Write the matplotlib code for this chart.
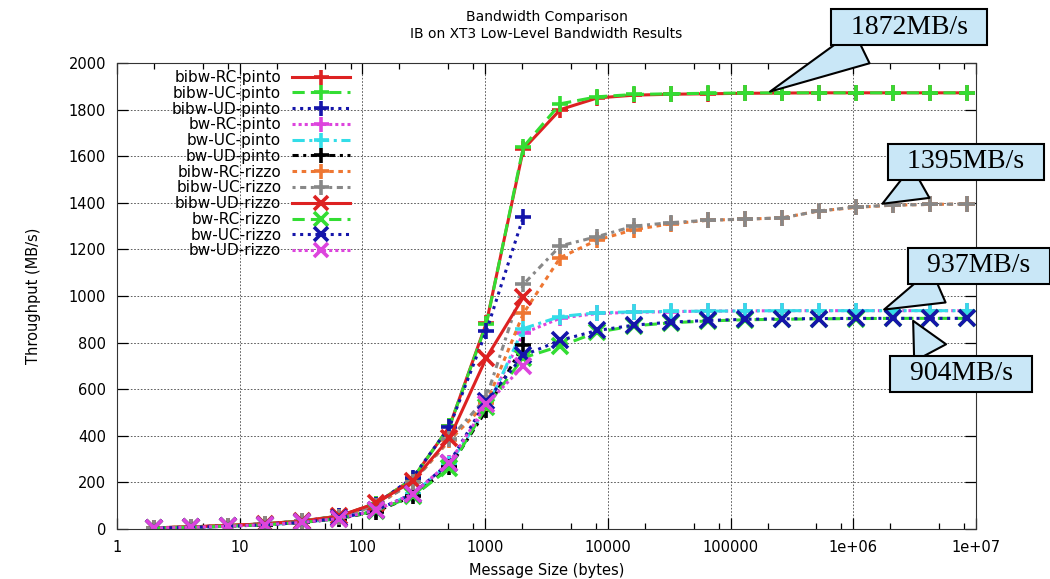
import matplotlib
matplotlib.use("Agg")
import matplotlib.pyplot as plt
from matplotlib.ticker import LogLocator, FixedLocator, NullFormatter

# message sizes 2 .. 8M bytes (UD tests stop at the 2048 byte MTU)
sizes = [2 ** k for k in range(1, 24)]
sizes_ud = [2 ** k for k in range(1, 12)]

bibw_rc_pinto = [5, 9, 15, 22, 35, 55, 108, 215, 440, 885, 1630, 1800, 1850, 1862, 1866, 1868, 1870, 1871, 1872, 1872, 1872, 1872, 1872]
bibw_uc_pinto = [5, 9, 15, 22, 35, 55, 108, 215, 440, 880, 1640, 1825, 1855, 1865, 1868, 1870, 1871, 1872, 1872, 1872, 1872, 1872, 1872]
bibw_ud_pinto = [5, 9, 15, 22, 34, 54, 105, 220, 438, 850, 1340]
bw_rc_pinto = [4, 7, 12, 18, 28, 45, 80, 150, 285, 520, 840, 905, 925, 930, 933, 935, 936, 937, 937, 937, 937, 937, 937]
bw_uc_pinto = [4, 7, 12, 18, 28, 45, 80, 150, 280, 515, 860, 912, 928, 932, 934, 935, 936, 937, 937, 937, 937, 937, 937]
bw_ud_pinto = [4, 7, 12, 18, 28, 44, 75, 140, 265, 510, 790]
bibw_rc_rizzo = [5, 9, 14, 22, 33, 52, 100, 200, 380, 540, 925, 1165, 1240, 1285, 1310, 1325, 1330, 1335, 1365, 1380, 1390, 1393, 1395]
bibw_uc_rizzo = [5, 9, 14, 22, 33, 52, 100, 200, 385, 565, 1050, 1215, 1255, 1300, 1315, 1325, 1330, 1335, 1365, 1382, 1390, 1393, 1395]
bibw_ud_rizzo = [5, 9, 15, 22, 33, 55, 110, 205, 390, 735, 995]
bw_rc_rizzo = [4, 7, 12, 18, 28, 44, 78, 140, 260, 525, 735, 785, 845, 872, 885, 893, 898, 900, 902, 903, 904, 904, 904]
bw_uc_rizzo = [4, 7, 12, 18, 28, 46, 80, 150, 285, 550, 745, 810, 852, 875, 888, 895, 900, 902, 903, 904, 904, 904, 904]
bw_ud_rizzo = [4, 7, 12, 18, 28, 45, 80, 150, 285, 535, 700]

# (label, x, y, color, linestyle, marker)
series = [
    ("bibw-RC-pinto", sizes, bibw_rc_pinto, "#dd2222", "-", "+"),
    ("bibw-UC-pinto", sizes, bibw_uc_pinto, "#33dd33", (0, (4, 2)), "+"),
    ("bibw-UD-pinto", sizes_ud, bibw_ud_pinto, "#1515aa", (0, (1, 1.5)), "+"),
    ("bw-RC-pinto", sizes, bw_rc_pinto, "#dd44dd", (0, (1, 1)), "+"),
    ("bw-UC-pinto", sizes, bw_uc_pinto, "#33dde8", (0, (4, 1.5, 1, 1.5)), "+"),
    ("bw-UD-pinto", sizes_ud, bw_ud_pinto, "#000000", (0, (2, 1.5, 1, 1.5)), "+"),
    ("bibw-RC-rizzo", sizes, bibw_rc_rizzo, "#ee7733", (0, (1.5, 1.5)), "+"),
    ("bibw-UC-rizzo", sizes, bibw_uc_rizzo, "#888888", (0, (1, 1.5, 2, 1.5)), "+"),
    ("bibw-UD-rizzo", sizes_ud, bibw_ud_rizzo, "#dd2222", "-", "x"),
    ("bw-RC-rizzo", sizes, bw_rc_rizzo, "#33dd33", (0, (4, 2)), "x"),
    ("bw-UC-rizzo", sizes, bw_uc_rizzo, "#1515aa", (0, (1, 1.5)), "x"),
    ("bw-UD-rizzo", sizes_ud, bw_ud_rizzo, "#dd44dd", (0, (1, 1)), "x"),
]

# callouts: text, target point, box centre (figure fraction), wedge root on box
callouts = [
    ("1872MB/s", (2.0e5, 1872), (909 / 1050, 1 - 27 / 579), (0.28, 0)),
    ("1395MB/s", (1.65e6, 1390), (966 / 1050, 1 - 162 / 579), (0.28, 0)),
    ("937MB/s", (1.7e6, 937), (979 / 1050, 1 - 266 / 579), (0.32, 0)),
    ("904MB/s", (3.0e6, 904), (961 / 1050, 1 - 374 / 579), (0.3, 1)),
]

plt.rcParams["font.family"] = ["DejaVu Sans"]
fig = plt.figure(figsize=(10.5, 5.79), dpi=100)
ax = fig.add_axes([117 / 1050, 50 / 579, (976 - 117) / 1050, (529 - 63) / 579])

for label, x, y, c, ls, m in series:
    ms = 12 if m == "+" else 11
    ax.plot(x, y, color=c, linestyle=ls, linewidth=2.2, marker=m,
            markersize=ms, markeredgewidth=2.6, label=label)

ax.set_xscale("log")
ax.set_xlim(1, 1e7)
ax.set_ylim(0, 2000)
ax.xaxis.set_minor_locator(LogLocator(base=10, subs=(2, 5, 8), numticks=20))
ax.xaxis.set_minor_formatter(NullFormatter())
ax.set_xticks([1, 10, 100, 1000, 10000, 100000, 1e6, 1e7])
ax.set_xticklabels(["1", "10", "100", "1000", "10000", "100000", "1e+06", "1e+07"])
ax.yaxis.set_major_locator(FixedLocator(list(range(0, 2001, 200))))
ax.tick_params(which="both", direction="in", top=True, right=True, labelsize=10.5)
ax.tick_params(which="major", length=8, width=0.9, pad=8)
ax.tick_params(which="minor", length=4, width=0.9)
ax.grid(True, which="major", color="#444444", linestyle=(0, (2, 2)), linewidth=0.6)
for s in ax.spines.values():
    s.set_color("#333333")

ax.set_xlabel("Message Size (bytes)", fontsize=10.5, labelpad=6)
ax.set_ylabel("Throughput (MB/s)", fontsize=10.5, labelpad=20)
ax.set_title("Bandwidth Comparison\nIB on XT3 Low-Level Bandwidth Results",
             fontsize=10, pad=18, linespacing=1.3)

ax.legend(loc="upper right", bbox_to_anchor=(350 / 1050, 1 - 70 / 579),
          bbox_transform=fig.transFigure, frameon=False, markerfirst=False,
          fontsize=11, labelspacing=0.05, handlelength=3.8, markerscale=0.9,
          handletextpad=0.7, borderpad=0, borderaxespad=0)

for txt, xy, xyt, rp in callouts:
    ax.annotate("  " + txt + "  ", xy=xy, xycoords="data", xytext=xyt,
                textcoords="figure fraction", ha="center", va="center",
                fontsize=20, family="Liberation Serif",
                bbox=dict(boxstyle="square,pad=0.2", fc="#c9e7f7", ec="black", lw=1.5),
                arrowprops=dict(arrowstyle="wedge,tail_width=1.3,shrink_factor=0.5",
                                fc="#c9e7f7", ec="black", lw=1.5, relpos=rp),
                annotation_clip=False)

fig.savefig("out.png", dpi=100)
plt.close(fig)
